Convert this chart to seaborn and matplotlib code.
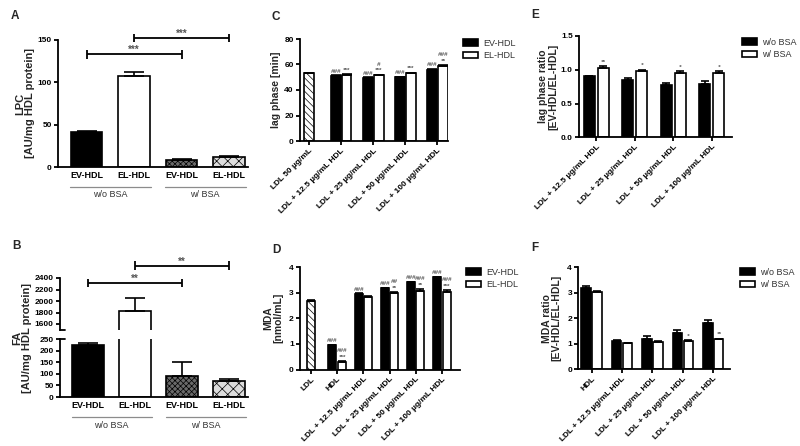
import matplotlib
matplotlib.use("Agg")
import matplotlib.pyplot as plt
from matplotlib.patches import Patch
import numpy as np
import pandas as pd
import seaborn as sns

# ------------------------------------------------------------------
# data
# ------------------------------------------------------------------
hdl_types = ["EV-HDL", "EL-HDL"]
bsa_types = ["w/o BSA", "w/ BSA"]

# A / B : bars in order w/o BSA EV, w/o BSA EL, w/ BSA EV, w/ BSA EL
lpc = [41.5, 107.5, 8.3, 12.0]
lpc_err = [1.0, 4.5, 1.5, 1.0]
fa = [224, 1830, 91, 67]
fa_err = [7, 220, 60, 10]

conc_labels = ["LDL + 12.5 µg/mL HDL", "LDL + 25 µg/mL HDL",
               "LDL + 50 µg/mL HDL", "LDL + 100 µg/mL HDL"]

# C : lag phase [min]
lag_ldl_label = "LDL 50 µg/mL"
lag_ldl = 53.0
lag_ldl_err = 0.4
lag_ev = [51.0, 49.5, 50.0, 56.0]
lag_ev_err = [0.4, 0.4, 0.5, 0.6]
lag_el = [52.0, 51.5, 53.0, 59.0]
lag_el_err = [0.5, 0.5, 0.5, 0.6]
lag_ev_marks = [["###"], ["###"], ["###"], ["###"]]
lag_el_marks = [["***"], ["***", "#"], ["***"], ["**", "###"]]

# D : MDA [nmol/mL]
mda_ldl_label = "LDL"
mda_ldl = 2.68
mda_ldl_err = 0.03
mda_labels = ["HDL"] + conc_labels
mda_ev = [0.94, 2.94, 3.18, 3.41, 3.60]
mda_ev_err = [0.03, 0.03, 0.02, 0.02, 0.02]
mda_el = [0.30, 2.84, 2.98, 3.05, 3.04]
mda_el_err = [0.02, 0.03, 0.03, 0.08, 0.05]
mda_ev_marks = [["###"], ["###"], ["###"], ["###"], ["###"]]
mda_el_marks = [["***", "###"], [], ["**", "##"], ["**", "###"], ["***", "###"]]

# E : lag phase ratio
lagr_wo = [0.905, 0.85, 0.775, 0.79]
lagr_wo_err = [0.01, 0.025, 0.035, 0.045]
lagr_w = [1.02, 0.98, 0.95, 0.95]
lagr_w_err = [0.035, 0.02, 0.03, 0.03]
lagr_marks = [["**"], ["*"], ["*"], ["*"]]

# F : MDA ratio
mdar_labels = ["HDL"] + conc_labels
mdar_wo = [3.19, 1.12, 1.20, 1.43, 1.80]
mdar_wo_err = [0.05, 0.04, 0.11, 0.09, 0.14]
mdar_w = [3.02, 1.02, 1.07, 1.11, 1.17]
mdar_w_err = [0.03, 0.02, 0.02, 0.03, 0.03]
mdar_marks = [[], [], [], ["*"], ["**"]]

# ------------------------------------------------------------------
# style
# ------------------------------------------------------------------
W, H = 800, 446
BAR_LW = 1.2
AX_LW = 1.3
MARK_COL = "#555555"
AB_FACE = ["black", "white", "#6a6a6a", "#dcdcdc"]
AB_HATCH = [None, None, "xxxxxx", "xxx"]

sns.set_style("ticks")
plt.rcParams["font.family"] = ["Liberation Sans", "DejaVu Sans"]
plt.rcParams["font.weight"] = "bold"
plt.rcParams["axes.labelweight"] = "bold"
plt.rcParams["hatch.linewidth"] = 0.5
plt.rcParams["axes.linewidth"] = AX_LW
plt.rcParams["axes.edgecolor"] = "black"
for a in ("xtick", "ytick"):
    plt.rcParams[f"{a}.major.width"] = AX_LW
    plt.rcParams[f"{a}.major.size"] = 3
    plt.rcParams[f"{a}.major.pad"] = 1.5
    plt.rcParams[f"{a}.color"] = "black"
    plt.rcParams[f"{a}.labelsize"] = 6


def px_rect(l, t, r, b):
    return [l / W, 1 - b / H, (r - l) / W, (b - t) / H]


def up_err(ax, x, y, e, cap):
    ax.errorbar(x, y, yerr=[np.zeros(len(y)), e], fmt="none", ecolor="black",
                elinewidth=BAR_LW, capsize=cap, capthick=BAR_LW, zorder=3)


def add_marks(ax, xs, tops, stacks, size=4.5, base=1.0, step=4.8):
    for x, t, st in zip(xs, tops, stacks):
        for j, m in enumerate(st):
            ax.annotate(m, (x, t), xytext=(0, base + step * j), textcoords="offset points",
                        ha="center", va="bottom", fontsize=size, color=MARK_COL,
                        style="italic", annotation_clip=False)


def sig_bar(ax, x0, x1, y, h, text):
    kw = dict(color="black", lw=AX_LW, clip_on=False, solid_capstyle="butt")
    ax.plot([x0, x1], [y, y], **kw)
    ax.plot([x0, x0], [y - h, y + h], **kw)
    ax.plot([x1, x1], [y - h, y + h], **kw)
    ax.annotate(text, ((x0 + x1) / 2, y), xytext=(0, -0.5), textcoords="offset points",
                ha="center", va="bottom", fontsize=7, color=MARK_COL, annotation_clip=False)


def group_labels(ax, line_y, text_y):
    trans = ax.get_xaxis_transform()
    for g, lab in enumerate(bsa_types):
        ax.plot([2 * g - 0.35, 2 * g + 1.35], [line_y, line_y], transform=trans,
                color="#8c8c8c", lw=0.9, clip_on=False)
        ax.text(2 * g + 0.5, text_y, lab, transform=trans, ha="center", va="center",
                fontsize=6.5, fontweight="normal", color="#333333")


def ab_bars(ax, values):
    df = pd.DataFrame({"bsa": np.repeat(bsa_types, 2), "hdl": hdl_types * 2, "v": values})
    df["bar"] = df["bsa"] + " " + df["hdl"]
    sns.barplot(data=df, x="bar", y="v", hue="bar", palette=AB_FACE, saturation=1,
                width=0.67, edgecolor="black", linewidth=BAR_LW, errorbar=None,
                legend=False, ax=ax)
    for p, h in zip(ax.patches, AB_HATCH):
        if h:
            p.set_hatch(h)
    ax.set_xlabel("")
    ax.set_ylabel("")
    ax.set_xticks(range(4))
    ax.set_xticklabels(df["hdl"], fontsize=6.5)
    ax.tick_params(axis="x", length=0, pad=3)
    ax.set_xlim(-0.6, 3.4)
    sns.despine(ax=ax)


def grouped(ax, labels, a, b, a_err, b_err, names, width, gap, cap, lead=None):
    order = ([lead[0]] if lead else []) + labels
    df = pd.DataFrame({"cond": labels * 2,
                       "series": np.repeat(names, len(labels)),
                       "v": a + b})
    sns.barplot(data=df, x="cond", y="v", hue="series", order=order, hue_order=names,
                palette=["black", "white"], saturation=1, edgecolor="black",
                linewidth=BAR_LW, width=width, gap=gap, errorbar=None, legend=False, ax=ax)
    k = 1 if lead else 0
    idx = np.arange(len(labels)) + k
    xa, xb = idx - width / 4, idx + width / 4
    up_err(ax, xa, a, a_err, cap)
    up_err(ax, xb, b, b_err, cap)
    if lead:
        ax.bar(0, lead[1], width=width / 2 * (1 - gap), color="white", edgecolor="black",
               linewidth=BAR_LW, hatch="\\\\\\\\\\", zorder=2)
        up_err(ax, [0], [lead[1]], [lead[2]], cap)
    ax.set_xlabel("")
    ax.set_xticks(range(len(order)))
    ax.set_xticklabels(order, rotation=45, ha="right", rotation_mode="anchor", fontsize=6)
    sns.despine(ax=ax)
    return xa, xb


def legend(fig, x, y, names):
    handles = [Patch(facecolor="black", edgecolor="black", linewidth=BAR_LW, label=names[0]),
               Patch(facecolor="white", edgecolor="black", linewidth=BAR_LW, label=names[1])]
    fig.legend(handles=handles, loc="upper left", bbox_to_anchor=(x / W, 1 - y / H),
               frameon=False, prop={"size": 6.5, "weight": "normal"}, labelcolor="#333333",
               handlelength=1.7, handleheight=0.8, handletextpad=0.5, labelspacing=0.35,
               borderpad=0, borderaxespad=0)


fig = plt.figure(figsize=(W / 100, H / 100), dpi=100)

# ---------------- A ----------------
ax = fig.add_axes(px_rect(58, 40, 248, 167))
ab_bars(ax, lpc)
up_err(ax, np.arange(4), lpc, lpc_err, 7)
ax.set_ylim(0, 150)
ax.set_yticks([0, 50, 100, 150])
ax.set_ylabel("LPC\n[AU/mg HDL protein]", fontsize=8, labelpad=1.5, linespacing=1.0)
sig_bar(ax, 0, 2, 133, 5, "***")
sig_bar(ax, 1, 3, 152.5, 5, "***")
group_labels(ax, -0.157, -0.215)

# ---------------- B (broken axis) ----------------
axb = fig.add_axes(px_rect(60, 339, 248, 397))
axt = fig.add_axes(px_rect(60, 278, 248, 329.75))
for a in (axb, axt):
    ab_bars(a, fa)
    up_err(a, np.arange(4), fa, fa_err, 7)
axb.set_ylim(0, 250)
axb.set_yticks(range(0, 251, 50))
axt.set_ylim(1500, 2400)
axt.set_yticks(range(1600, 2401, 200))
axt.spines["bottom"].set_visible(False)
axt.set_xticks([])
axt.plot([0, 0.025], [0, 0], transform=axt.transAxes, color="black", lw=AX_LW, clip_on=False)
axb.plot([0, 0.025], [1, 1], transform=axb.transAxes, color="black", lw=AX_LW, clip_on=False)
sig_bar(axt, 0, 2, 2313, 78, "**")
sig_bar(axt, 1, 3, 2610, 78, "**")
group_labels(axb, -0.345, -0.5)
fig.text(22.5 / W, 1 - 338 / H, "FA\n[AU/mg HDL protein]", rotation=90, ha="center",
         va="center", fontsize=8, linespacing=1.0)

# ---------------- C ----------------
ax = fig.add_axes(px_rect(300, 39, 448, 141))
xa, xb = grouped(ax, conc_labels, lag_ev, lag_el, lag_ev_err, lag_el_err, hdl_types,
                 0.68, 0.1, 3.5, lead=(lag_ldl_label, lag_ldl, lag_ldl_err))
ax.set_xlim(-0.28, 4.33)
ax.set_ylim(0, 80)
ax.set_yticks(range(0, 81, 20))
ax.set_ylabel("lag phase [min]", fontsize=7.5, labelpad=2)
add_marks(ax, xa, np.add(lag_ev, lag_ev_err), lag_ev_marks)
add_marks(ax, xb, np.add(lag_el, lag_el_err), lag_el_marks)
legend(fig, 463, 39, hdl_types)

# ---------------- D ----------------
ax = fig.add_axes(px_rect(300, 267, 460, 369.5))
xa, xb = grouped(ax, mda_labels, mda_ev, mda_el, mda_ev_err, mda_el_err, hdl_types,
                 0.72, 0.15, 3, lead=(mda_ldl_label, mda_ldl, mda_ldl_err))
ax.set_xlim(-0.42, 5.69)
ax.set_ylim(0, 4)
ax.set_yticks(range(5))
ax.set_ylabel("MDA\n[nmol/mL]", fontsize=7.5, labelpad=4, linespacing=1.0)
add_marks(ax, xa, np.add(mda_ev, mda_ev_err), mda_ev_marks)
add_marks(ax, xb, np.add(mda_el, mda_el_err), mda_el_marks)
legend(fig, 466, 268, hdl_types)

# ---------------- E ----------------
ax = fig.add_axes(px_rect(579, 36, 731.7, 137.3))
xa, xb = grouped(ax, conc_labels, lagr_wo, lagr_w, lagr_wo_err, lagr_w_err, bsa_types,
                 0.72, 0.2, 3)
ax.set_xlim(-0.45, 3.52)
ax.set_ylim(0, 1.5)
ax.set_yticks([0, 0.5, 1.0, 1.5])
ax.set_yticklabels(["0.0", "0.5", "1.0", "1.5"])
ax.set_ylabel("lag phase ratio\n[EV-HDL/EL-HDL]", fontsize=7.5, labelpad=2, linespacing=1.0)
add_marks(ax, xb, np.add(lagr_w, lagr_w_err), lagr_marks)
legend(fig, 742, 38, bsa_types)

# ---------------- F ----------------
ax = fig.add_axes(px_rect(578.3, 267, 730, 369.3))
xa, xb = grouped(ax, mdar_labels, mdar_wo, mdar_w, mdar_wo_err, mdar_w_err, bsa_types,
                 0.72, 0.14, 3)
ax.set_xlim(-0.44, 4.55)
ax.set_ylim(0, 4)
ax.set_yticks(range(5))
ax.set_ylabel("MDA ratio\n[EV-HDL/EL-HDL]", fontsize=7.5, labelpad=4, linespacing=1.0)
add_marks(ax, xb, np.add(mdar_w, mdar_w_err), mdar_marks)
legend(fig, 740, 268, bsa_types)

# panel letters
for letter, x, y in [("A", 11, 10), ("B", 12, 240), ("C", 271, 11),
                     ("D", 272, 244), ("E", 531, 9), ("F", 531, 242)]:
    fig.text(x / W, 1 - y / H, letter, fontsize=8.5, fontweight="bold", ha="left", va="top")

fig.savefig("out.png", dpi=100, facecolor="white")
